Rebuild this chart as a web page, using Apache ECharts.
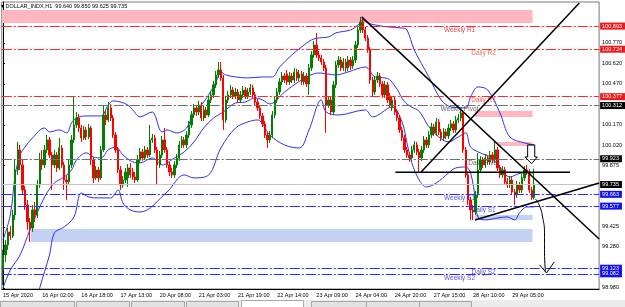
<!DOCTYPE html>
<html>
<head>
<meta charset="utf-8">
<title>DOLLAR_INDX,H1</title>
<script src="https://cdn.jsdelivr.net/npm/echarts@6.0.0/dist/echarts.min.js"></script>
<style>
  html, body { margin: 0; padding: 0; background: #fff; }
  #chart { width: 625px; height: 307px; }
</style>
</head>
<body>
<div id="chart"></div>
<script>
// H1 candles [open, close, low, high]
var candles = [
  [99.110, 99.220, 99.000, 99.257], [99.220, 99.293, 99.169, 99.330], [99.293, 99.388, 99.257, 99.417],
  [99.388, 99.359, 99.330, 99.432], [99.359, 99.512, 99.344, 99.549], [99.512, 99.841, 99.476, 99.914],
  [99.841, 99.988, 99.805, 100.046], [99.988, 99.878, 99.841, 100.024], [99.878, 99.695, 99.659, 99.914],
  [99.695, 99.585, 99.549, 99.724],
  [99.585, 99.461, 99.403, 99.622], [99.461, 99.417, 99.315, 99.490], [99.417, 99.549, 99.388, 99.585],
  [99.549, 99.512, 99.461, 99.607], [99.512, 99.732, 99.490, 99.768], [99.732, 99.914, 99.710, 99.966],
  [99.914, 99.878, 99.841, 99.988], [99.878, 99.988, 99.856, 100.024], [99.988, 100.061, 99.966, 100.097],
  [100.061, 99.951, 99.929, 100.083],
  [99.951, 99.878, 99.695, 99.973], [99.878, 99.951, 99.856, 99.988], [99.951, 99.856, 99.827, 99.973],
  [99.856, 100.002, 99.841, 100.075], [100.002, 99.878, 99.856, 100.024], [99.878, 99.768, 99.695, 99.900],
  [99.768, 99.754, 99.622, 99.805], [99.754, 99.878, 99.732, 99.914], [99.878, 100.061, 99.856, 100.097],
  [100.061, 100.170, 100.039, 100.375],
  [100.170, 100.221, 100.148, 100.265], [100.221, 100.148, 100.119, 100.251], [100.148, 100.075, 100.046, 100.170],
  [100.075, 100.134, 100.061, 100.163], [100.134, 100.083, 100.061, 100.156], [100.083, 100.148, 100.068, 100.178],
  [100.148, 99.914, 99.878, 100.163], [99.914, 99.783, 99.746, 99.936], [99.783, 99.841, 99.768, 99.870],
  [99.841, 99.783, 99.754, 99.863],
  [99.783, 99.988, 99.768, 100.017], [99.988, 100.243, 99.973, 100.316], [100.243, 100.207, 100.170, 100.280],
  [100.207, 100.295, 100.192, 100.338], [100.295, 100.221, 100.199, 100.324], [100.221, 100.097, 100.075, 100.243],
  [100.097, 99.988, 99.966, 100.119], [99.988, 99.841, 99.819, 100.009], [99.841, 99.732, 99.695, 99.870],
  [99.732, 99.768, 99.710, 99.797],
  [99.768, 99.827, 99.746, 99.856], [99.783, 99.856, 99.717, 99.885], [99.856, 99.805, 99.783, 99.892],
  [99.827, 99.790, 99.768, 99.856], [99.790, 99.768, 99.746, 99.827], [99.768, 99.914, 99.754, 99.951],
  [99.914, 99.973, 99.892, 100.002], [99.973, 99.929, 99.907, 99.995], [99.929, 99.988, 99.914, 100.017],
  [99.988, 99.951, 99.929, 100.009],
  [99.951, 100.061, 99.936, 100.170], [100.061, 100.075, 100.039, 100.104], [100.075, 99.988, 99.966, 100.097],
  [99.988, 99.878, 99.732, 100.009], [99.878, 99.951, 99.856, 99.980], [99.951, 100.061, 99.929, 100.090],
  [100.061, 99.988, 99.966, 100.148], [99.988, 99.878, 99.856, 100.009], [99.878, 99.827, 99.797, 99.900],
  [99.827, 99.805, 99.783, 99.856],
  [99.805, 99.878, 99.783, 99.907], [99.878, 99.929, 99.856, 99.958], [99.929, 100.024, 99.907, 100.053],
  [100.024, 100.061, 100.002, 100.090], [100.061, 100.024, 100.002, 100.083], [100.024, 100.097, 100.002, 100.126],
  [100.097, 100.170, 100.075, 100.199], [100.170, 100.243, 100.148, 100.272], [100.243, 100.295, 100.221, 100.324],
  [100.295, 100.265, 100.236, 100.316],
  [100.265, 100.316, 100.243, 100.346], [100.316, 100.221, 100.199, 100.338], [100.221, 100.280, 100.199, 100.309],
  [100.280, 100.243, 100.221, 100.302], [100.243, 100.353, 100.229, 100.382], [100.353, 100.390, 100.331, 100.419],
  [100.390, 100.463, 100.368, 100.492], [100.463, 100.536, 100.441, 100.565], [100.536, 100.572, 100.514, 100.631],
  [100.572, 100.514, 100.492, 100.631],
  [100.514, 100.207, 100.134, 100.536], [100.207, 100.353, 100.185, 100.382], [100.353, 100.390, 100.331, 100.419],
  [100.390, 100.426, 100.368, 100.463], [100.426, 100.382, 100.360, 100.448], [100.382, 100.411, 100.360, 100.441],
  [100.411, 100.353, 100.331, 100.433], [100.353, 100.390, 100.331, 100.419], [100.390, 100.426, 100.368, 100.455],
  [100.426, 100.382, 100.360, 100.448],
  [100.382, 100.411, 100.360, 100.441], [100.411, 100.441, 100.390, 100.470], [100.441, 100.390, 100.368, 100.463],
  [100.390, 100.338, 100.316, 100.411], [100.338, 100.295, 100.272, 100.360], [100.295, 100.236, 100.214, 100.316],
  [100.236, 100.178, 100.156, 100.258], [100.178, 100.097, 100.075, 100.199], [100.097, 100.061, 100.002, 100.119],
  [100.061, 100.097, 100.039, 100.126],
  [100.097, 100.243, 100.075, 100.272], [100.243, 100.353, 100.221, 100.382], [100.353, 100.411, 100.331, 100.441],
  [100.411, 100.485, 100.390, 100.514], [100.485, 100.528, 100.463, 100.558], [100.528, 100.499, 100.477, 100.550],
  [100.543, 100.485, 100.463, 100.572], [100.485, 100.528, 100.463, 100.558], [100.528, 100.499, 100.477, 100.550],
  [100.499, 100.558, 100.477, 100.587],
  [100.558, 100.514, 100.492, 100.580], [100.514, 100.543, 100.492, 100.572], [100.543, 100.485, 100.463, 100.565],
  [100.485, 100.528, 100.463, 100.558], [100.528, 100.470, 100.448, 100.550], [100.470, 100.587, 100.390, 100.616],
  [100.587, 100.682, 100.565, 100.711], [100.682, 100.755, 100.660, 100.784], [100.755, 100.682, 100.660, 100.843],
  [100.682, 100.660, 100.638, 100.711],
  [100.660, 100.631, 100.609, 100.682], [100.631, 100.587, 100.565, 100.653], [100.587, 100.316, 100.112, 100.609],
  [100.316, 100.353, 100.295, 100.382], [100.353, 100.265, 100.243, 100.375], [100.265, 100.463, 100.243, 100.492],
  [100.463, 100.609, 100.441, 100.638], [100.609, 100.645, 100.587, 100.675], [100.645, 100.587, 100.565, 100.667],
  [100.587, 100.631, 100.565, 100.660],
  [100.631, 100.587, 100.558, 100.653], [100.587, 100.645, 100.565, 100.675], [100.645, 100.602, 100.572, 100.667],
  [100.602, 100.645, 100.580, 100.675], [100.645, 100.755, 100.623, 100.784], [100.755, 100.865, 100.733, 100.894],
  [100.865, 100.923, 100.843, 100.960], [100.923, 100.865, 100.843, 100.960], [100.865, 100.806, 100.784, 100.887],
  [100.806, 100.719, 100.697, 100.828],
  [100.719, 100.499, 100.470, 100.740], [100.499, 100.411, 100.375, 100.521], [100.411, 100.499, 100.390, 100.528],
  [100.499, 100.528, 100.477, 100.558], [100.528, 100.470, 100.448, 100.550], [100.470, 100.390, 100.368, 100.492],
  [100.390, 100.463, 100.368, 100.492], [100.463, 100.353, 100.331, 100.485], [100.382, 100.316, 100.295, 100.404],
  [100.295, 100.353, 100.272, 100.382],
  [100.353, 100.265, 100.243, 100.375], [100.265, 100.221, 100.199, 100.287], [100.221, 100.134, 100.112, 100.243],
  [100.134, 100.075, 100.053, 100.156], [100.075, 99.988, 99.966, 100.097], [99.988, 99.951, 99.929, 100.009],
  [99.951, 99.929, 99.900, 99.973], [99.929, 99.988, 99.907, 100.017], [99.988, 100.024, 99.966, 100.053],
  [100.024, 99.973, 99.951, 100.046],
  [99.973, 99.929, 99.827, 99.995], [99.929, 99.988, 99.907, 100.017], [99.988, 100.061, 99.966, 100.090],
  [100.061, 100.024, 100.002, 100.083], [100.024, 100.097, 100.002, 100.126], [100.097, 100.156, 100.075, 100.185],
  [100.156, 100.112, 100.090, 100.178], [100.112, 100.192, 100.090, 100.221], [100.192, 100.119, 100.097, 100.214],
  [100.119, 100.075, 100.053, 100.141],
  [100.075, 100.119, 100.053, 100.148], [100.119, 100.090, 100.068, 100.141], [100.090, 100.148, 100.068, 100.178],
  [100.148, 100.178, 100.126, 100.207], [100.178, 100.134, 100.112, 100.199], [100.134, 100.207, 100.112, 100.236],
  [100.207, 100.221, 100.185, 100.251], [100.221, 100.258, 100.199, 100.280], [100.258, 99.988, 99.966, 100.280],
  [99.988, 99.805, 99.783, 100.009],
  [99.805, 99.622, 99.585, 99.827], [99.622, 99.549, 99.476, 99.644], [99.549, 99.534, 99.476, 99.585],
  [99.534, 99.659, 99.512, 99.688], [99.659, 99.841, 99.637, 99.966], [99.841, 99.914, 99.819, 99.943],
  [99.914, 99.878, 99.856, 99.936], [99.878, 99.929, 99.856, 99.958], [99.929, 99.900, 99.878, 99.951],
  [99.900, 99.951, 99.878, 99.980],
  [99.951, 99.914, 99.892, 99.973], [99.914, 99.988, 99.892, 100.046], [99.988, 99.856, 99.834, 100.009],
  [99.856, 99.805, 99.783, 99.878], [99.805, 99.841, 99.783, 99.870], [99.841, 99.754, 99.732, 99.863],
  [99.754, 99.732, 99.710, 99.783], [99.732, 99.768, 99.710, 99.797], [99.768, 99.680, 99.659, 99.790],
  [99.680, 99.659, 99.585, 99.702],
  [99.659, 99.732, 99.637, 99.761], [99.732, 99.695, 99.673, 99.754], [99.695, 99.783, 99.673, 99.812],
  [99.783, 99.841, 99.761, 99.870], [99.841, 99.827, 99.805, 99.878], [99.827, 99.695, 99.673, 99.849],
  [99.695, 99.640, 99.622, 99.717], [99.640, 99.735, 99.625, 99.850]
];

// Bollinger bands, sampled [bar, price]
var bbUpper = [[0, 99.330], [3, 99.512], [5, 99.805], [7, 99.951], [9, 100.009], [12, 100.075], [17, 100.148],
  [19, 100.119], [23, 100.134], [26, 100.112], [28, 100.185], [30, 100.221], [34, 100.236], [40, 100.236],
  [43, 100.316], [45, 100.346], [48, 100.338], [51, 100.316], [53, 100.280], [56, 100.229], [61, 100.265],
  [62, 100.243], [65, 100.119], [67, 100.134], [71, 100.112], [75, 100.148], [78, 100.265], [81, 100.316],
  [84, 100.390], [87, 100.485], [89, 100.558], [91, 100.536], [95, 100.521], [100, 100.514], [106, 100.521],
  [110, 100.521], [113, 100.594], [118, 100.682], [122, 100.741], [126, 100.792], [129, 100.806], [133, 100.814],
  [136, 100.843], [142, 100.865], [145, 100.901], [147, 100.938], [149, 100.916], [152, 100.901], [157, 100.887],
  [163, 100.879], [165, 100.865], [168, 100.718], [174, 100.521], [179, 100.353], [183, 100.302], [189, 100.295],
  [191, 100.375], [194, 100.448], [198, 100.426], [203, 100.258], [207, 100.083], [213, 100.039], [217, 100.024]];
var bbMiddle = [[0, 98.979], [3, 99.110], [7, 99.220], [11, 99.403], [17, 99.644], [21, 99.746], [25, 99.790],
  [28, 99.841], [30, 99.914], [34, 99.966], [37, 99.936], [40, 99.929], [43, 99.988], [46, 100.009], [49, 99.951],
  [53, 99.900], [56, 99.893], [61, 99.929], [65, 99.878], [70, 99.929], [74, 99.973], [78, 100.046], [82, 100.148],
  [86, 100.221], [90, 100.265], [95, 100.331], [99, 100.338], [103, 100.368], [106, 100.353], [109, 100.324],
  [115, 100.411], [122, 100.499], [129, 100.550], [136, 100.536], [141, 100.558], [148, 100.594], [152, 100.521],
  [156, 100.514], [158, 100.500], [161, 100.430], [164, 100.340], [167, 100.300], [170, 100.270], [174, 100.156],
  [178, 100.083], [182, 100.046], [186, 100.083], [189, 100.112], [191, 100.009], [195, 99.966], [199, 99.936],
  [203, 99.863], [207, 99.790], [212, 99.819], [217, 99.819]];
var bbLower = [[13, 98.818], [15, 98.979], [19, 99.220], [21, 99.381], [25, 99.425], [29, 99.498], [32, 99.673],
  [35, 99.644], [39, 99.637], [44, 99.637], [47, 99.695], [49, 99.600], [52, 99.549], [56, 99.534], [67, 99.680],
  [74, 99.805], [78, 99.783], [84, 99.805], [89, 100.002], [95, 100.148], [100, 100.192], [104, 100.207],
  [109, 100.097], [115, 100.024], [121, 100.002], [125, 100.134], [130, 100.353], [132, 100.265], [137, 100.243],
  [148, 100.280], [151, 100.229], [159, 100.302], [163, 100.192], [165, 100.039], [167, 99.893], [170, 99.768],
  [173, 99.717], [177, 99.746], [182, 99.819], [185, 99.856], [189, 99.863], [191, 99.819], [193, 99.622],
  [194, 99.498], [197, 99.476], [202, 99.490], [206, 99.498], [209, 99.476], [211, 99.527], [214, 99.571],
  [217, 99.571]];

// pivot levels
var levelNames = ['Weekly R1', 'Daily R2', 'Daily R1', 'Weekly Pivot', 'Daily Pivot', 'Weekly S1', 'Daily S1', 'Daily S2', 'Weekly S2'];
var levelValues = [100.893, 100.724, 100.377, 100.312, 99.923, 99.663, 99.577, 99.123, 99.082];

// zones [fromBar, toBar, top, bottom]
var supplyZones = [[-0.3, 216.3, 101.011, 100.916], [192.8, 216.3, 100.273, 100.229], [201.7, 216.3, 100.046, 100.017]];
var demandZones = [[192.8, 216.3, 99.512, 99.476], [11.3, 216.3, 99.410, 99.315]];

// hand drawn lines [bar, price]
var trendLines = [
  [[146.5, 100.960], [243.5, 99.337]],
  [[170.8, 99.827], [235.4, 101.062]],
  [[192.8, 99.476], [243.5, 99.746]],
  [[160.3, 99.825], [231.6, 99.825]]
];
var hollowArrow = [[214.3, 100.024], [217.2, 100.024], [217.2, 99.936], [218.3, 99.936], [215.9, 99.887],
  [213.3, 99.936], [214.3, 99.936], [214.3, 100.024]];
var arrowBody = [[217.5, 99.629], [219.2, 99.578], [220.4, 99.498], [221.2, 99.381], [221.2, 99.235], [221.6, 99.096]];
var arrowHead = [[219.2, 99.147], [222.0, 99.088], [225.2, 99.169]];

var tickLabels = ['15 Apr 2020', '16 Apr 02:00', '16 Apr 18:00', '17 Apr 13:00', '20 Apr 08:00', '21 Apr 03:00',
  '21 Apr 19:00', '22 Apr 14:00', '23 Apr 09:00', '24 Apr 04:00', '24 Apr 20:00', '27 Apr 15:00',
  '28 Apr 10:00', '29 Apr 05:00'];
var priceTicks = [100.770, 100.620, 100.470, 100.170, 100.020, 99.875, 99.425, 99.280, 98.980];

var SLOTS = 244;      // bars incl. right shift
var LABEL_STEP = 16;
var FONT = 'Liberation Sans, Arial, sans-serif';

var chart = echarts.init(document.getElementById('chart'), null, { renderer: 'canvas' });

var slots = [];
for (var i = 0; i < SLOTS; i++) slots.push(String(i));

function levelColor(name) {
  if (name.indexOf('Pivot') >= 0) return { line: '#6e6e6e', text: '#404040', box: '#000' };
  if (/R\d/.test(name)) {
    var txt = name === 'Daily R2' ? '#d85a2c' : (name === 'Daily R1' ? '#f02a2a' : '#cc2020');
    return { line: '#ff2a2a', text: txt, box: '#f01818' };
  }
  return { line: '#2a2aff', text: '#2828d0', box: '#1010f0' };
}

var axisBox = function (bg) {
  return {
    show: true, position: 'end', distance: 1, color: '#fff', backgroundColor: bg,
    fontSize: 5.5, fontFamily: FONT, padding: [1, 3, 0, 2],
    formatter: function (p) { return p.value.toFixed(3); }
  };
};

var last = candles[candles.length - 1];

var levelLines = levelValues.map(function (v, k) {
  var c = levelColor(levelNames[k]);
  return { yAxis: v, lineStyle: { color: c.line, type: [10, 2, 2, 2], width: 1 }, label: axisBox(c.box) };
});
levelLines.push({ yAxis: last[1], lineStyle: { color: '#c4c4c4', type: 'solid', width: 1 }, label: axisBox('#000') });

var levelText = levelValues.map(function (v, k) {
  var n = levelNames[k];
  return {
    name: n,
    value: [n.indexOf('Weekly') === 0 ? 186.5 : 196.3, v],
    label: { color: levelColor(n).text }
  };
});

var zones = [];
supplyZones.forEach(function (z) {
  zones.push([{ xAxis: z[0], yAxis: z[2], itemStyle: { color: '#ffb6c1', opacity: 1 } }, { xAxis: z[1], yAxis: z[3] }]);
});
demandZones.forEach(function (z) {
  zones.push([{ xAxis: z[0], yAxis: z[2], itemStyle: { color: '#c5d1f3', opacity: 1 } }, { xAxis: z[1], yAxis: z[3] }]);
});

var drawings = trendLines.map(function (c) { return { coords: c }; });
drawings.push({ coords: hollowArrow, lineStyle: { width: 1 } });
drawings.push({ coords: arrowHead, lineStyle: { width: 1 } });

function band(name, data) {
  return {
    name: name, type: 'line', xAxisIndex: 1, data: data, smooth: 0.35, symbol: 'none', z: 3,
    lineStyle: { color: '#2f2ff0', width: 1 }, silent: true
  };
}

var option = {
  animation: false,
  backgroundColor: '#fff',
  title: {
    text: '\u25BE DOLLAR_INDX,H1  ' + [last[0], last[3], last[2], last[1]].map(function (v) { return v.toFixed(3); }).join(' '),
    left: 1, top: 3, padding: 0,
    textStyle: { fontSize: 5.5, fontWeight: 'normal', color: '#000', fontFamily: FONT }
  },
  grid: { left: 1, right: 23, top: 2, bottom: 18, show: true, borderColor: '#7a7a7a', borderWidth: 1 },
  xAxis: [{
    type: 'category', data: slots, boundaryGap: true,
    axisLine: { lineStyle: { color: '#000' } },
    axisTick: {
      length: 2, lineStyle: { color: '#000' },
      interval: function (idx) { return idx % LABEL_STEP === 0 && idx / LABEL_STEP < tickLabels.length; }
    },
    axisLabel: {
      interval: LABEL_STEP - 1, align: 'left', margin: 3, fontSize: 5.5, color: '#000', fontFamily: FONT,
      formatter: function (v, idx) { return tickLabels[idx / LABEL_STEP] || ''; }
    },
    splitLine: { show: false }
  }, {
    type: 'value', min: -0.5, max: SLOTS - 0.5, show: false
  }],
  yAxis: {
    type: 'value', position: 'right', min: 98.971, max: 101.069, scale: true,
    splitLine: { show: false },
    axisLine: { show: true, lineStyle: { color: '#000' } },
    axisTick: { show: true, length: 2, customValues: priceTicks, lineStyle: { color: '#000' } },
    axisLabel: {
      customValues: priceTicks, margin: 3, fontSize: 5.5, color: '#000', fontFamily: FONT,
      formatter: function (v) { return v.toFixed(3); }
    }
  },
  series: [
    {
      name: 'zones', type: 'line', xAxisIndex: 1, data: [], z: 1, silent: true,
      markArea: { silent: true, data: zones }
    },
    {
      name: 'levels', type: 'line', xAxisIndex: 1, data: [], z: 2, silent: true,
      markLine: { silent: true, symbol: ['none', 'none'], precision: 3, data: levelLines }
    },
    band('upper', bbUpper),
    band('middle', bbMiddle),
    band('lower', bbLower),
    {
      name: 'DOLLAR_INDX', type: 'candlestick', data: candles, z: 4, barWidth: 1.8,
      itemStyle: { color: '#007f00', color0: '#ff0000', borderColor: '#007f00', borderColor0: '#ff0000', borderWidth: 1 }
    },
    {
      name: 'level names', type: 'scatter', xAxisIndex: 1, data: levelText, symbolSize: 1, z: 5, silent: true,
      itemStyle: { color: 'rgba(0,0,0,0)' },
      label: { show: true, position: 'bottom', distance: 0, formatter: '{b}', fontSize: 6.5, fontFamily: FONT }
    },
    {
      name: 'drawings', type: 'lines', coordinateSystem: 'cartesian2d', xAxisIndex: 1, polyline: true,
      data: drawings, z: 6, silent: true,
      lineStyle: { color: '#000', width: 1.5, opacity: 1 }
    },
    {
      name: 'arrow', type: 'line', xAxisIndex: 1, data: arrowBody, smooth: 0.5, symbol: 'none', z: 6, silent: true,
      lineStyle: { color: '#000', width: 1 }
    }
  ],
  graphic: [
    { type: 'rect', silent: true, shape: { x: 0, y: 300, width: 625, height: 7 }, style: { fill: '#ececec' } },
    { type: 'rect', silent: true, shape: { x: 0.5, y: 301.5, width: 74, height: 6 }, style: { fill: '#e2e2e2', stroke: '#a8a8a8' } },
    { type: 'rect', silent: true, shape: { x: 76.5, y: 301.5, width: 53, height: 6 }, style: { fill: '#e2e2e2', stroke: '#a8a8a8' } },
    { type: 'rect', silent: true, shape: { x: 131.5, y: 301.5, width: 53, height: 6 }, style: { fill: '#e2e2e2', stroke: '#a8a8a8' } },
    { type: 'rect', silent: true, shape: { x: 186.5, y: 301.5, width: 52, height: 6 }, style: { fill: '#e2e2e2', stroke: '#a8a8a8' } },
    { type: 'rect', silent: true, shape: { x: 241.5, y: 300.5, width: 62, height: 7 }, style: { fill: '#fff', stroke: '#a8a8a8' } },
    { type: 'rect', silent: true, shape: { x: 311.5, y: 301.5, width: 55, height: 6 }, style: { fill: '#e2e2e2', stroke: '#a8a8a8' } },
    { type: 'rect', silent: true, shape: { x: 366.5, y: 301.5, width: 53, height: 6 }, style: { fill: '#e2e2e2', stroke: '#a8a8a8' } },
    { type: 'rect', silent: true, shape: { x: 419.5, y: 301.5, width: 52, height: 6 }, style: { fill: '#e2e2e2', stroke: '#a8a8a8' } }
  ]
};

chart.setOption(option);
</script>
</body>
</html>
